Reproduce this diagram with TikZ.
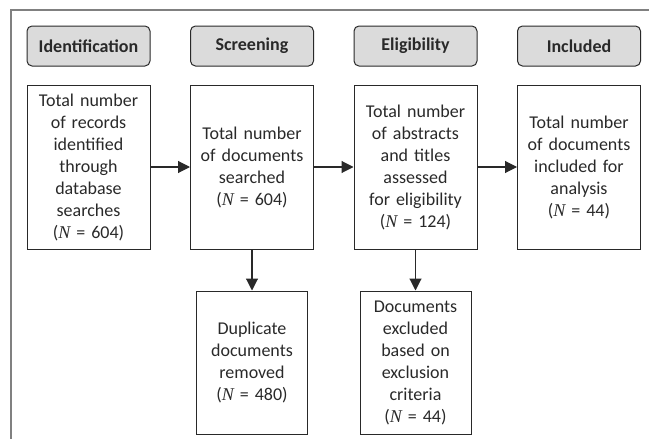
\documentclass[tikz,border=0pt]{standalone}
\usepackage{fontspec}
\setmainfont{Carlito}
\newfontfamily\nfont{Liberation Serif}
\usepackage{tikz}
\usetikzlibrary{arrows.meta,positioning}
\definecolor{stagegray}{rgb}{0.86,0.86,0.86}
\definecolor{framegray}{rgb}{0.50,0.50,0.50}
\definecolor{inkgray}{rgb}{0.16,0.16,0.16}
\newcommand{\cnt}[1]{({\nfont\itshape N} = #1)}
\tikzset{
  stage/.style={rounded corners=5pt, draw=inkgray, fill=stagegray, line width=1pt,
                minimum width=123pt, minimum height=40pt, inner sep=0pt,
                font=\fontsize{18}{21}\selectfont\bfseries, text=inkgray},
  record/.style={draw=inkgray, line width=1pt, align=center, inner sep=0pt,
                 minimum width=123pt, minimum height=164pt, text width=121pt,
                 font=\fontsize{18}{22}\selectfont, text=inkgray},
  flow/.style={-{Triangle[length=12pt,width=12pt]}, line width=1.1pt, draw=inkgray},
}
\begin{document}
\begin{tikzpicture}[
    removed/.style={record, minimum width=111pt, minimum height=143pt, text width=109pt},
    node distance=39.5pt]
  \useasboundingbox (0,0) rectangle (649pt,-439pt);
  % frame (top and left edge only)
  \draw[framegray, line width=1.2pt] (649pt,-10pt) -- (11pt,-10pt) -- (11pt,-439pt);
  % stage headers
  \node[stage] (idn) at (88.5pt,-46pt) {Identification};
  \node[stage, right=of idn] (scr) {Screening};
  \node[stage, right=of scr] (elg) {Eligibility};
  \node[stage, right=of elg] (inc) {Included};
  % records per stage
  \node[record, below=18pt of idn] (r1) {Total number\\of records\\identified\\through\\database\\searches\\\cnt{604}};
  \node[record, below=18pt of scr] (r2) {Total number\\of documents\\searched\\\cnt{604}};
  \node[record, below=18pt of elg] (r3) {Total number\\of abstracts\\and titles\\assessed\\for eligibility\\\cnt{124}};
  \node[record, below=18pt of inc] (r4) {Total number\\of documents\\included for\\analysis\\\cnt{44}};
  % removed records
  \node[removed, below=41pt of r2] (x2) {Duplicate\\documents\\removed\\\cnt{480}};
  \node[removed, below=41pt of r3] (x3) {Documents\\excluded\\based on\\exclusion\\criteria\\\cnt{44}};
  \draw[flow] (r1) -- (r2);
  \draw[flow] (r2) -- (r3);
  \draw[flow] (r3) -- (r4);
  \draw[flow] (r2) -- (x2);
  \draw[flow] (r3) -- (x3);
\end{tikzpicture}
\end{document}
